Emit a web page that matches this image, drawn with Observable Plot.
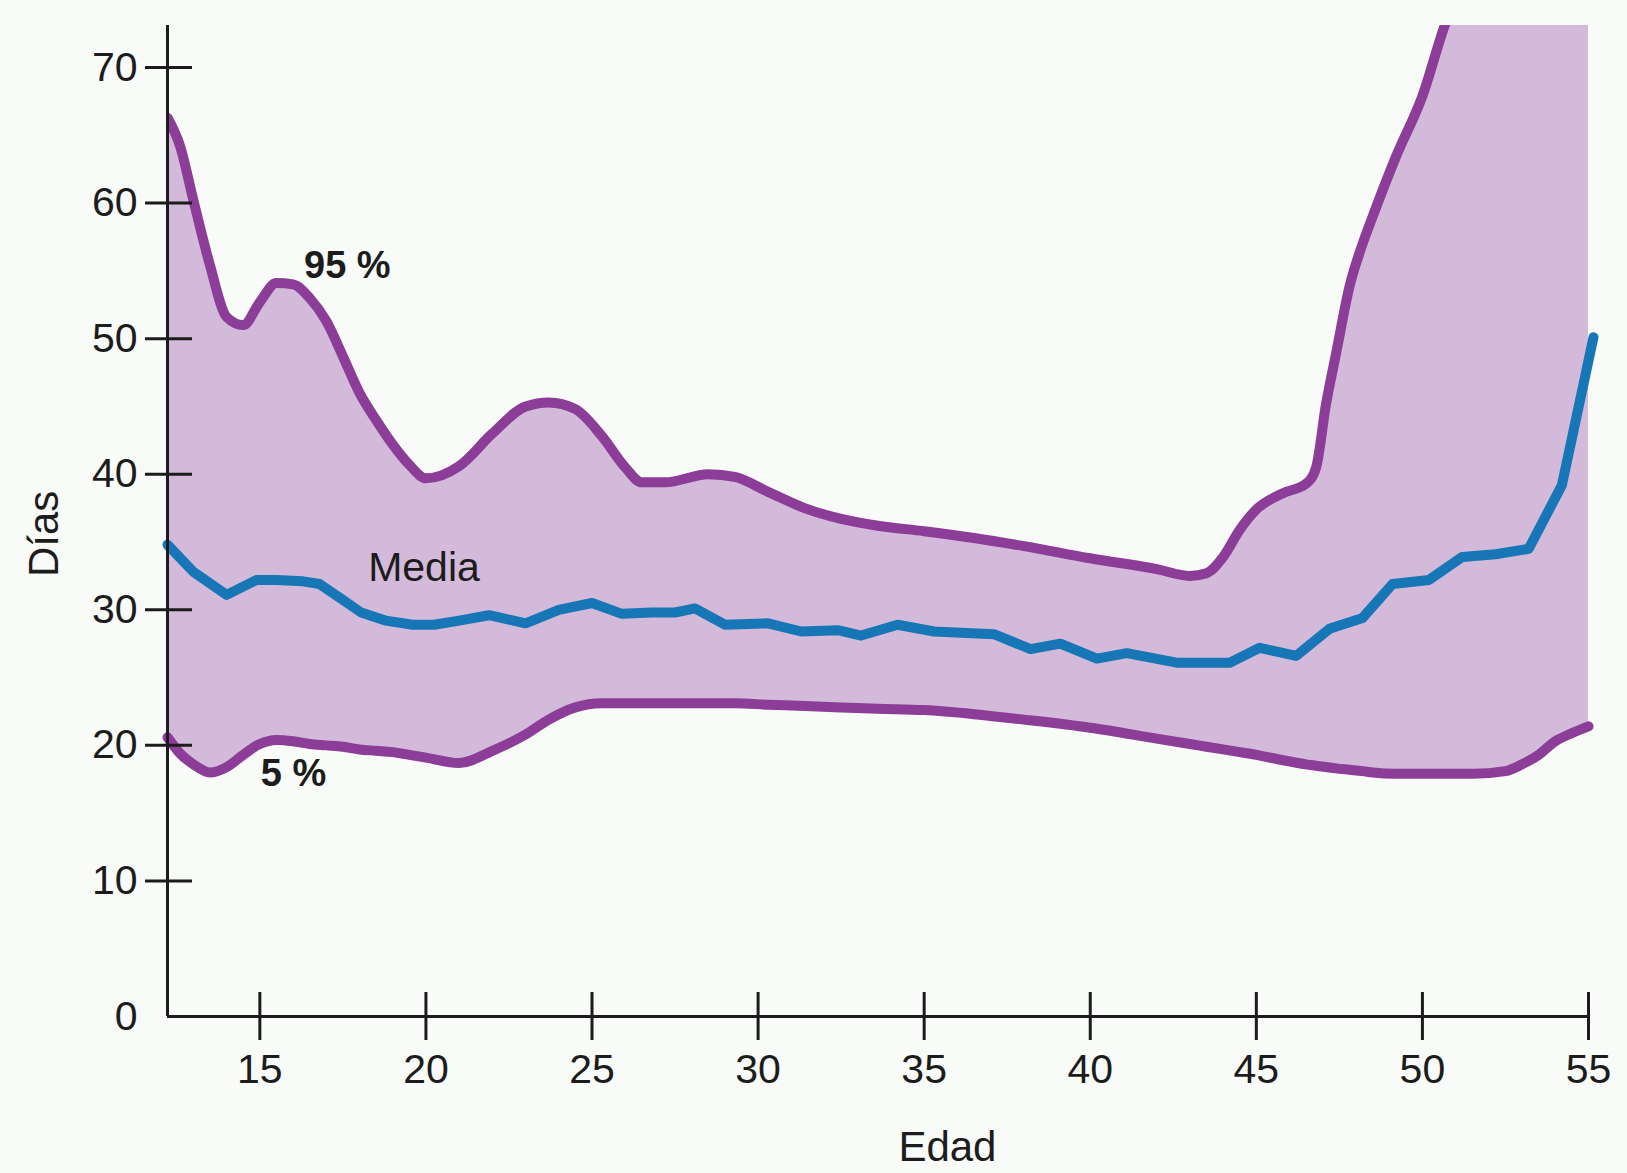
<!DOCTYPE html>
<html>
<head>
<meta charset="utf-8">
<script src="https://cdn.jsdelivr.net/npm/d3@7"></script>
<script src="https://cdn.jsdelivr.net/npm/@observablehq/plot@0.6"></script>
<style>
  html, body { margin: 0; padding: 0; background: #f8fbf7; }
  #chart svg { display: block; }
</style>
</head>
<body>
<div id="chart"></div>
<script>
// Band (5th and 95th percentile) sampled at common ages
const bandAges = [12.22, 12.6, 13.0, 13.5, 14.0, 14.5, 15.0, 15.5, 16.0, 16.5, 17.0, 17.5, 18.0, 18.5, 19.0, 19.5, 20.0, 21.0, 22.0, 23.0, 23.7, 24.5, 25.3, 26.0, 26.5, 27.2, 28.5, 29.3, 30.3, 31.4, 32.5, 33.6, 35.0, 36.5, 38.0, 40.0, 42.0, 43.0, 43.5, 44.0, 44.5, 45.0, 45.8, 46.5, 46.8, 47.1, 47.4, 47.8, 48.2, 48.5, 49.2, 50.0, 50.7, 51.5, 52.5, 53.0, 53.5, 54.0, 54.5, 55.0];
const p95 = [66.3, 64.2, 60.2, 55.4, 51.6, 51.0, 52.7, 54.1, 54.0, 53.0, 51.3, 48.7, 46.0, 44.0, 42.2, 40.7, 39.7, 40.6, 43.0, 45.0, 45.3, 44.8, 42.8, 40.5, 39.4, 39.4, 40.0, 39.8, 38.7, 37.5, 36.7, 36.2, 35.8, 35.3, 34.7, 33.8, 33.0, 32.5, 32.7, 33.9, 35.9, 37.4, 38.6, 39.3, 40.5, 45.2, 48.9, 53.8, 57.0, 59.0, 63.4, 67.9, 73.3, 77.5, 83.0, 85.5, 88.0, 91.0, 93.5, 96.0];
const p5 = [20.6, 19.4, 18.6, 18.0, 18.4, 19.3, 20.1, 20.4, 20.3, 20.1, 20.0, 19.9, 19.7, 19.6, 19.5, 19.3, 19.1, 18.7, 19.6, 20.8, 21.9, 22.8, 23.1, 23.1, 23.1, 23.1, 23.1, 23.1, 23.0, 22.9, 22.8, 22.7, 22.6, 22.3, 21.9, 21.3, 20.5, 20.1, 19.9, 19.7, 19.5, 19.3, 18.9, 18.6, 18.5, 18.4, 18.3, 18.2, 18.1, 18.0, 17.9, 17.9, 17.9, 17.9, 18.1, 18.6, 19.3, 20.3, 20.9, 21.4];

// Mean (Media)
const meanAges = [12.22, 13.0, 14.0, 14.9, 15.5, 16.3, 16.8, 17.4, 18.05, 18.8, 19.6, 20.25, 21.0, 21.9, 23.0, 24.0, 25.0, 25.9, 26.8, 27.5, 28.1, 29.0, 30.3, 31.3, 32.4, 33.1, 34.2, 35.3, 37.1, 38.2, 39.1, 40.2, 41.1, 42.6, 44.2, 45.1, 46.2, 47.2, 48.2, 49.1, 50.2, 51.2, 52.2, 53.2, 54.2, 55.15];
const meanDays = [34.8, 32.8, 31.1, 32.2, 32.2, 32.1, 31.9, 30.9, 29.8, 29.2, 28.9, 28.9, 29.2, 29.6, 29.0, 30.0, 30.5, 29.7, 29.8, 29.8, 30.1, 28.9, 29.0, 28.4, 28.5, 28.1, 28.9, 28.4, 28.2, 27.1, 27.5, 26.4, 26.8, 26.1, 26.1, 27.2, 26.6, 28.6, 29.4, 31.9, 32.2, 33.9, 34.1, 34.5, 39.2, 50.1];

// Axis ticks
const xTicks = [15, 20, 25, 30, 35, 40, 45, 50, 55];
const yTickMarks = [10, 20, 30, 40, 50, 60, 70];
const yTickLabels = [0, 10, 20, 30, 40, 50, 60, 70];

// Annotations
const seriesLabels = ["95 %", "Media", "5 %"];
const seriesLabelAge = [16.33, 18.26, 15.03];
const seriesLabelDays = [55.4, 33.1, 17.9];
const seriesLabelBold = [true, false, true];

const xLabel = "Edad";
const yLabel = "Días";

const band = bandAges.map((a, i) => ({age: a, lo: p5[i], hi: p95[i]}));
const mean = meanAges.map((a, i) => ({age: a, v: meanDays[i]}));
const labels = seriesLabels.map((t, i) => ({t, x: seriesLabelAge[i], y: seriesLabelDays[i], bold: seriesLabelBold[i]}));

const xMin = 12.22, xMax = 55, yMax = 73.1;
const FONT = "'Liberation Sans', Arial, Helvetica, sans-serif";
const purple = "#8b3d97";
const fillC = "#d3b9da";
const blue = "#1776b6";
const ink = "#1c1c1c";

const chart = Plot.plot({
  width: 1627,
  height: 1173,
  marginLeft: 167,
  marginRight: 39,
  marginTop: 25,
  marginBottom: 157,
  style: {background: "transparent", fontFamily: FONT, color: ink},
  x: {domain: [xMin, xMax]},
  y: {domain: [0, yMax]},
  marks: [
    Plot.areaY(band, {x: "age", y1: "lo", y2: "hi", fill: fillC, curve: "monotone-x", clip: true}),
    Plot.line(band, {x: "age", y: "hi", stroke: purple, strokeWidth: 10, curve: "monotone-x", clip: true}),
    Plot.line(band, {x: "age", y: "lo", stroke: purple, strokeWidth: 10, curve: "monotone-x"}),
    Plot.line(mean, {x: "age", y: "v", stroke: blue, strokeWidth: 10, strokeLinejoin: "round", curve: "linear"}),
    // axis lines
    Plot.ruleX([xMin], {stroke: ink, strokeWidth: 3}),
    Plot.ruleY([0], {stroke: ink, strokeWidth: 3}),
    // crossing tick marks
    Plot.axisY(yTickMarks, {anchor: "left", text: null, tickSize: 47, dx: 25, strokeWidth: 3, stroke: ink, label: null}),
    Plot.axisX(xTicks, {anchor: "bottom", text: null, tickSize: 48, dy: -24, strokeWidth: 3, stroke: ink, label: null}),
    // tick labels
    Plot.axisY(yTickLabels, {anchor: "left", tickSize: 0, tickPadding: 30, fontSize: 41, fill: ink, label: null}),
    Plot.axisX(xTicks, {anchor: "bottom", tickSize: 0, tickPadding: 37, fontSize: 41, fill: ink, label: null}),
    // series labels
    Plot.text(labels.filter(d => d.bold), {x: "x", y: "y", text: "t", textAnchor: "start", fontSize: 38, fontWeight: "bold", fill: ink, letterSpacing: 1}),
    Plot.text(labels.filter(d => !d.bold), {x: "x", y: "y", text: "t", textAnchor: "start", fontSize: 41, fill: ink}),
    // axis titles
    Plot.text([xLabel], {x: 35.7, y: -9.67, text: d => d, fontSize: 42, fill: ink}),
    Plot.text([yLabel], {x: 8.53, y: 35.6, text: d => d, fontSize: 42, rotate: -90, fill: ink})
  ]
});
document.getElementById("chart").appendChild(chart);
</script>
</body>
</html>
